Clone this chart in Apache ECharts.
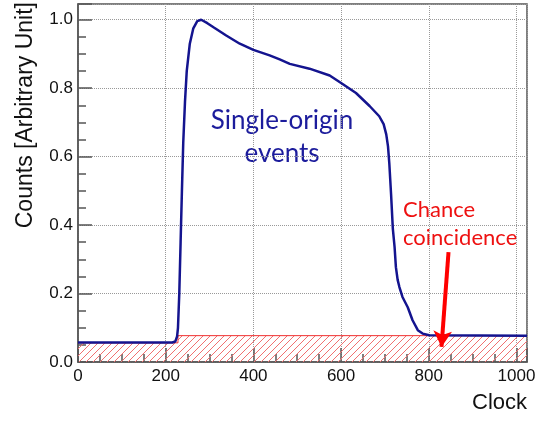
<!DOCTYPE html>
<html>
<head>
<meta charset="utf-8">
<script src="https://cdn.jsdelivr.net/npm/echarts@6/dist/echarts.min.js"></script>
<style>
  html, body { margin: 0; padding: 0; background: #fff; }
  #chart { width: 553px; height: 421px; }
</style>
</head>
<body>
<div id="chart"></div>
<script>
// single-origin event distribution (clock, counts)
const signalClock = [0, 150, 215, 222, 226, 228, 231, 234, 237, 240, 244, 248, 255, 263, 272, 281, 295, 309, 338, 369, 400, 437, 460, 483, 528, 574, 600, 634, 665, 687, 697, 703, 707, 710, 714, 718, 722, 725, 729, 733, 740, 752, 763, 775, 786, 801, 1024]
const signalCounts = [0.057, 0.057, 0.057, 0.060, 0.075, 0.10, 0.20, 0.35, 0.50, 0.64, 0.76, 0.85, 0.93, 0.975, 0.996, 1.0, 0.99, 0.978, 0.954, 0.93, 0.912, 0.896, 0.884, 0.871, 0.857, 0.837, 0.815, 0.786, 0.748, 0.718, 0.695, 0.665, 0.63, 0.58, 0.49, 0.39, 0.336, 0.277, 0.24, 0.219, 0.19, 0.16, 0.122, 0.093, 0.083, 0.078, 0.077]

// chance coincidence level (hatched), one step per bin
const chanceStart = [0, 228]
const chanceEnd = [228, 1024]
const chanceLevel = [0.056, 0.077]

// arrow from label to the hatched band
const arrowFrom = [845, 0.321]
const arrowTo = [829, 0.044]

const xTicks = [0, 200, 400, 600, 800, 1000]
const yTicks = [0, 0.2, 0.4, 0.6, 0.8, 1.0]

const zip = (xs, ys) => xs.map((x, i) => [x, ys[i]])

const chanceSteps = chanceStart.map((s, i) => [s, chanceEnd[i], chanceLevel[i]])
const chanceLine = []
chanceSteps.forEach(([s, e, v]) => { chanceLine.push([s, v]); chanceLine.push([e, v]) })

const HATCH_STEP = 7

// "///" hatch clipped to one step of the chance level
const renderHatch = (params, api) => {
  const p0 = api.coord([api.value(0), 0])
  const p1 = api.coord([api.value(1), api.value(2)])
  const x0 = p0[0], x1 = p1[0], yBot = p0[1], yTop = p1[1]
  const children = []
  const cMin = Math.floor((x0 + yTop) / HATCH_STEP) * HATCH_STEP
  for (let c = cMin; c <= x1 + yBot; c += HATCH_STEP) {
    const xa = Math.max(x0, c - yBot)
    const xb = Math.min(x1, c - yTop)
    if (xb <= xa) continue
    children.push({
      type: 'line',
      shape: { x1: xa, y1: c - xa, x2: xb, y2: c - xb },
      style: { stroke: '#f07070', lineWidth: 1 }
    })
  }
  return { type: 'group', children }
}

const chart = echarts.init(document.getElementById('chart'))

const axisFont = { fontFamily: 'Liberation Sans', fontSize: 17, color: '#111' }

const option = {
  animation: false,
  grid: {
    left: 78, right: 26, top: 4, bottom: 59,
    show: true, borderColor: '#555', borderWidth: 1.5
  },
  xAxis: {
    type: 'value',
    min: 0, max: 1024, interval: 200,
    axisLine: { show: true, onZero: false, lineStyle: { color: '#555', width: 1.5 } },
    axisTick: { inside: true, length: 14, lineStyle: { color: '#555', width: 1.5 } },
    minorTick: { show: true, splitNumber: 4, length: 8, lineStyle: { color: '#555', width: 1.5 } },
    axisLabel: Object.assign({
      margin: 6,
      formatter: v => xTicks.includes(v) ? String(v) : ''
    }, axisFont),
    splitLine: { show: true, lineStyle: { color: '#999', type: 'dotted', width: 1 } }
  },
  yAxis: {
    type: 'value',
    min: 0, max: 1.046, interval: 0.2,
    axisLine: { show: true, lineStyle: { color: '#555', width: 1.5 } },
    axisTick: { inside: true, length: 14, lineStyle: { color: '#555', width: 1.5 } },
    minorTick: { show: true, splitNumber: 4, length: 8, lineStyle: { color: '#555', width: 1.5 } },
    axisLabel: Object.assign({
      margin: 5,
      formatter: v => yTicks.some(t => Math.abs(t - v) < 1e-6) ? v.toFixed(1) : ''
    }, axisFont),
    splitLine: { show: true, lineStyle: { color: '#999', type: 'dotted', width: 1 } }
  },
  series: [
    {
      name: 'Chance hatch',
      type: 'custom',
      renderItem: renderHatch,
      data: chanceSteps,
      silent: true,
      z: 1
    },
    {
      name: 'Chance coincidence',
      type: 'line',
      data: chanceLine,
      symbol: 'none',
      lineStyle: { color: '#f03030', width: 1 },
      z: 2,
      markLine: {
        silent: true,
        symbol: ['none', 'arrow'],
        symbolSize: [14, 16],
        label: { show: false },
        lineStyle: { color: '#ff0000', width: 4, type: 'solid' },
        data: [[{ coord: arrowFrom }, { coord: arrowTo }]]
      }
    },
    {
      name: 'Single-origin events',
      type: 'line',
      data: zip(signalClock, signalCounts),
      symbol: 'none',
      lineStyle: { color: '#14148f', width: 2.5 },
      z: 3
    }
  ],
  graphic: [
    {
      type: 'text', x: 26, y: 2, rotation: Math.PI / 2,
      style: { text: 'Counts [Arbitrary Unit]', fontFamily: 'Liberation Sans', fontSize: 23, fill: '#111', align: 'right', verticalAlign: 'middle' }
    },
    {
      type: 'text', right: 26, top: 392,
      style: { text: 'Clock', fontFamily: 'Liberation Sans', fontSize: 22, fill: '#111' }
    },
    {
      type: 'text', x: 282, y: 121,
      style: { text: 'Single-origin', fontFamily: 'Lato', fontSize: 26, fill: '#1c1c9c', align: 'center', verticalAlign: 'middle' }
    },
    {
      type: 'text', x: 282, y: 154,
      style: { text: 'events', fontFamily: 'Lato', fontSize: 26, fill: '#1c1c9c', align: 'center', verticalAlign: 'middle' }
    },
    {
      type: 'text', x: 403, y: 210,
      style: { text: 'Chance', fontFamily: 'Lato', fontSize: 22, fill: '#ee1111', align: 'left', verticalAlign: 'middle' }
    },
    {
      type: 'text', x: 403, y: 238,
      style: { text: 'coincidence', fontFamily: 'Lato', fontSize: 22, fill: '#ee1111', align: 'left', verticalAlign: 'middle' }
    }
  ]
}

chart.setOption(option)
</script>
</body>
</html>
